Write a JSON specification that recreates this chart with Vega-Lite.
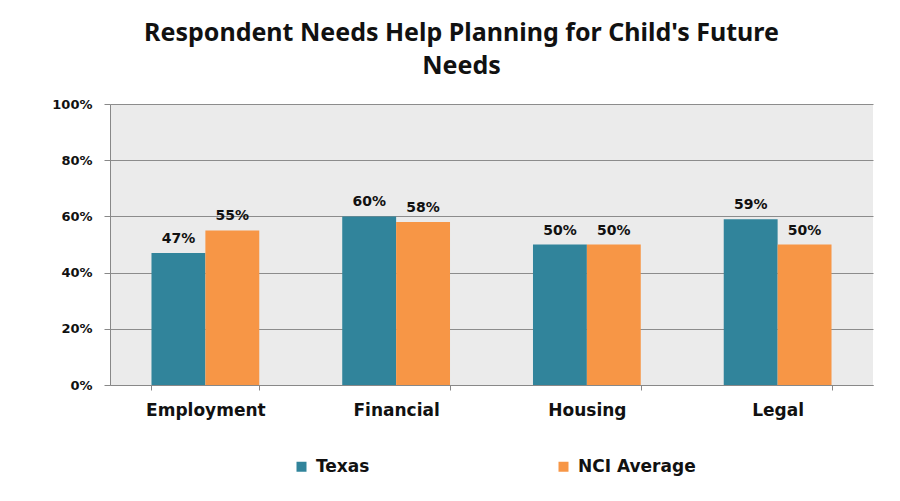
{
  "$schema": "https://vega.github.io/schema/vega-lite/v6.json",
  "width": 763,
  "height": 281,
  "autosize": {"type": "none"},
  "padding": {"left": 110, "top": 104, "right": 27, "bottom": 116},
  "background": "white",
  "title": {
    "text": ["Respondent Needs Help Planning for Child's Future", "Needs"],
    "font": "Noto Sans",
    "fontSize": 25,
    "fontWeight": "bold",
    "color": "#111111",
    "anchor": "middle",
    "dx": -30,
    "offset": 19,
    "lineHeight": 33
  },
  "config": {
    "view": {"fill": "#ebebeb", "stroke": null},
    "font": "DejaVu Sans"
  },
  "data": {
    "values": [
      {"category": "Employment", "series": "Texas", "value": 0.47},
      {"category": "Employment", "series": "NCI Average", "value": 0.55},
      {"category": "Financial", "series": "Texas", "value": 0.60},
      {"category": "Financial", "series": "NCI Average", "value": 0.58},
      {"category": "Housing", "series": "Texas", "value": 0.50},
      {"category": "Housing", "series": "NCI Average", "value": 0.50},
      {"category": "Legal", "series": "Texas", "value": 0.59},
      {"category": "Legal", "series": "NCI Average", "value": 0.50}
    ]
  },
  "encoding": {
    "x": {
      "field": "category",
      "type": "nominal",
      "sort": ["Employment", "Financial", "Housing", "Legal"],
      "scale": {"paddingInner": 0.435, "paddingOuter": 0.2175},
      "axis": {
        "title": null,
        "labelAngle": 0,
        "labelFont": "DejaVu Sans",
        "labelFontSize": 17,
        "labelFontWeight": "bold",
        "labelColor": "#111111",
        "labelPadding": 12,
        "tickBand": "extent",
        "tickSize": 5,
        "tickColor": "#888888",
        "domainColor": "#888888",
        "grid": false
      }
    },
    "xOffset": {"field": "series", "type": "nominal", "sort": ["Texas", "NCI Average"]},
    "y": {
      "field": "value",
      "type": "quantitative",
      "scale": {"domain": [0, 1]},
      "axis": {
        "title": null,
        "format": ".0%",
        "values": [0, 0.2, 0.4, 0.6, 0.8, 1],
        "labelFont": "DejaVu Sans",
        "labelFontSize": 13,
        "labelFontWeight": "bold",
        "labelColor": "#111111",
        "labelPadding": 12,
        "tickSize": 6,
        "tickColor": "#888888",
        "domainColor": "#888888",
        "gridColor": "#8c8c8c",
        "gridWidth": 1
      }
    }
  },
  "layer": [
    {
      "mark": {"type": "bar"},
      "encoding": {
        "color": {
          "field": "series",
          "type": "nominal",
          "scale": {"domain": ["Texas", "NCI Average"], "range": ["#31849B", "#F79646"]},
          "legend": {
            "title": null,
            "orient": "none",
            "direction": "horizontal",
            "legendX": 183,
            "legendY": 354,
            "padding": 0,
            "symbolType": "square",
            "symbolSize": 100,
            "symbolStrokeWidth": 0,
            "labelFont": "DejaVu Sans",
            "labelFontSize": 17,
            "labelFontWeight": "bold",
            "labelColor": "#111111",
            "labelOffset": 6,
            "columnPadding": 185
          }
        }
      }
    },
    {
      "mark": {
        "type": "text",
        "baseline": "alphabetic",
        "dy": -10,
        "font": "DejaVu Sans",
        "fontSize": 14,
        "fontWeight": "bold",
        "color": "#111111"
      },
      "encoding": {
        "text": {"field": "value", "type": "quantitative", "format": ".0%"}
      }
    }
  ]
}
